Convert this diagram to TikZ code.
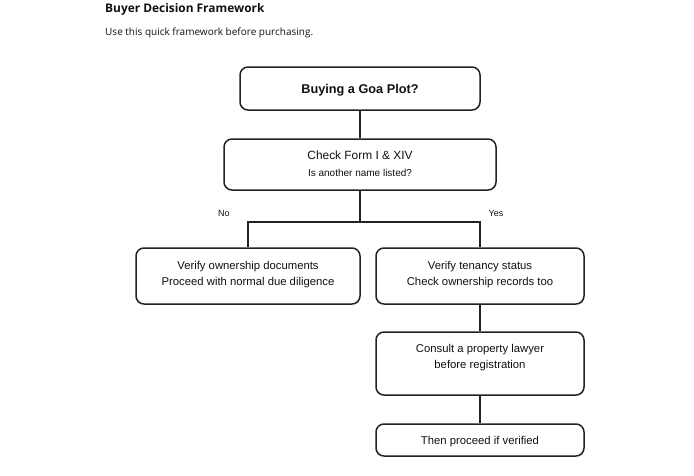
\documentclass[tikz,border=0pt]{standalone}
\usepackage{fontspec}
\setmainfont{Liberation Sans}
\newfontfamily\headfont{Open Sans}
\definecolor{ln}{HTML}{222222}
\definecolor{txt}{HTML}{111111}
\begin{document}
\begin{tikzpicture}[x=1pt,y=-1pt,
  box/.style={draw=ln,line width=1.5pt,rounded corners=8pt,fill=white},
  conn/.style={draw=ln,line width=1.5pt},
  lbl/.style={font=\fontsize{11.3}{13}\selectfont,text=txt,inner sep=0pt,anchor=base},
  small/.style={font=\fontsize{10}{11}\selectfont,text=txt,inner sep=0pt,anchor=base}]
\useasboundingbox[fill=white] (0,0) rectangle (694,475);
\node[anchor=base west,inner sep=0pt,font=\headfont\bfseries\fontsize{11.9}{14}\selectfont,text=txt] (title) at (105,12) {Buyer Decision Framework};
\node[anchor=base west,inner sep=0pt,font=\headfont\fontsize{10}{12}\selectfont,text=txt] (sub) at (105,35.5) {Use this quick framework before purchasing.};
% boxes
\path[box] (240,67) rectangle (480,110);
\coordinate (topb) at (360,110);
\path[box] (224,139) rectangle (496,190);
\path[box] (136,248) rectangle (360,304);
\path[box] (376,248) rectangle (584,304);
\path[box] (376,332) rectangle (584,395);
\path[box] (376,424) rectangle (584,456);
\node[inner sep=0pt] (b2t) at (360,139) {};
\node[inner sep=0pt] (b2b) at (360,190) {};
\node[inner sep=0pt] (b3t) at (248,248) {};
\node[inner sep=0pt] (b4t) at (480,248) {};
\node[inner sep=0pt] (b4b) at (480,304) {};
\node[inner sep=0pt] (b5t) at (480,332) {};
\node[inner sep=0pt] (b5b) at (480,395) {};
\node[inner sep=0pt] (b6t) at (480,424) {};
\coordinate (j) at (360,222);
% connectors
\draw[conn] (topb) -- (b2t);
\draw[conn] (b2b) -- (j);
\draw[conn] (j) -| (b3t);
\draw[conn] (j) -| (b4t);
\draw[conn] (b4b) -- (b5t);
\draw[conn] (b5b) -- (b6t);
% texts
\node[anchor=base,inner sep=0pt,font=\bfseries\fontsize{12.7}{16}\selectfont,text=txt] (t1) at (360,93.5) {Buying a Goa Plot?};
\node[lbl,font=\fontsize{11.9}{13}\selectfont] (t2a) at (360,159.5) {Check Form I \& XIV};
\node[small] (t2b) at (360,176) {Is another name listed?};
\node[small,font=\fontsize{9}{11}\selectfont] (no) at (224,216) {No};
\node[small,font=\fontsize{9}{11}\selectfont] (yes) at (496,216) {Yes};
\node[lbl] (t3a) at (248,269) {Verify ownership documents};
\node[lbl] (t3b) at (248,285) {Proceed with normal due diligence};
\node[lbl] (t4a) at (480,269) {Verify tenancy status};
\node[lbl] (t4b) at (480,285) {Check ownership records too};
\node[lbl] (t5a) at (480,352) {Consult a property lawyer};
\node[lbl] (t5b) at (480,368) {before registration};
\node[lbl] (t6) at (480,444) {Then proceed if verified};
\end{tikzpicture}
\end{document}
